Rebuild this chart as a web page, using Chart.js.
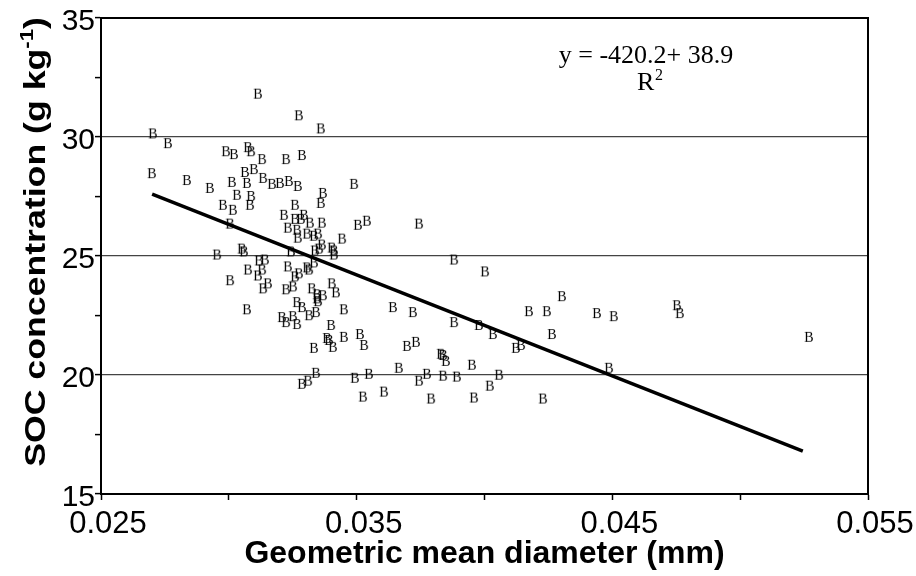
<!DOCTYPE html>
<html>
<head>
<meta charset="utf-8">
<script src="https://cdn.jsdelivr.net/npm/chart.js@4.4.0/dist/chart.umd.min.js"></script>
<style>
    html, body { margin: 0; padding: 0; background: #fff; }
    #wrap { width: 916px; height: 576px; }
</style>
</head>
<body>
<div id="wrap"><canvas id="grafico" width="916" height="576"></canvas></div>
<script>
// diametro medio geometrico (mm)
var gmd = [
    0.03114, 0.03274, 0.03360, 0.02703, 0.02762, 0.02989, 0.03020, 0.03075, 0.03087, 0.03130,
    0.03224, 0.03286, 0.02699, 0.02836, 0.02926, 0.03012, 0.03063, 0.03098, 0.03071, 0.03134,
    0.03169, 0.03200, 0.03235, 0.03270, 0.03490, 0.03368, 0.03032, 0.03087, 0.03360, 0.02977,
    0.03016, 0.03083, 0.03259, 0.03216, 0.03259, 0.03282, 0.03294, 0.03317, 0.03364, 0.03505,
    0.03540, 0.03005, 0.03231, 0.03267, 0.03270, 0.03306, 0.03333, 0.03349, 0.03443, 0.03364,
    0.03353, 0.03337, 0.03403, 0.03411, 0.03411, 0.03243, 0.02954, 0.03051, 0.03059, 0.03118,
    0.03141, 0.03333, 0.03231, 0.03075, 0.03130, 0.03306, 0.03314, 0.03274, 0.03259, 0.03114,
    0.03005, 0.03153, 0.03134, 0.03224, 0.03251, 0.03325, 0.03345, 0.03368, 0.03403, 0.03419,
    0.03345, 0.03349, 0.03267, 0.03286, 0.03071, 0.03314, 0.03341, 0.03450, 0.03208, 0.03224,
    0.03251, 0.03267, 0.03400, 0.03384, 0.03392, 0.03450, 0.03513, 0.03529, 0.03407, 0.03333,
    0.03341, 0.03310, 0.03286, 0.03493, 0.03548, 0.03525, 0.03607, 0.03744, 0.03881, 0.04002,
    0.04303, 0.04174, 0.04244, 0.04440, 0.04506, 0.03642, 0.03720, 0.03881, 0.03978, 0.04033,
    0.04264, 0.04123, 0.04143, 0.03697, 0.03732, 0.03830, 0.03838, 0.03849, 0.03951, 0.03665,
    0.03775, 0.03838, 0.03892, 0.04057, 0.03744, 0.04021, 0.04487, 0.03791, 0.03959, 0.04229,
    0.04753, 0.04764, 0.05269
];
// concentracao de SOC (g/kg)
var soc = [
    31.78, 30.87, 30.32, 30.11, 29.70, 29.36, 29.24, 29.53, 29.36, 29.03,
    29.03, 29.20, 28.44, 28.15, 27.82, 28.07, 28.49, 28.61, 28.03, 28.24,
    27.99, 28.03, 28.11, 27.90, 27.99, 27.61, 27.53, 27.48, 27.19, 27.11,
    26.90, 27.11, 27.11, 26.69, 26.52, 26.52, 26.69, 26.36, 26.36, 26.27,
    26.44, 26.32, 26.15, 26.06, 25.73, 25.90, 25.81, 25.90, 25.69, 25.44,
    25.27, 25.19, 25.31, 25.19, 25.02, 25.15, 25.02, 25.27, 25.15, 24.77,
    24.81, 24.69, 24.52, 24.39, 24.39, 24.48, 24.39, 24.23, 24.10, 24.14,
    23.94, 23.81, 23.60, 23.56, 23.68, 23.60, 23.35, 23.31, 23.81, 23.43,
    23.18, 23.06, 23.02, 22.81, 22.72, 22.47, 22.60, 22.72, 22.39, 22.18,
    22.43, 22.10, 22.06, 21.51, 21.43, 21.56, 21.68, 21.22, 21.14, 21.10,
    20.05, 19.72, 19.59, 19.84, 20.01, 19.05, 19.26, 26.32, 24.81, 24.31,
    23.27, 22.64, 22.64, 22.56, 22.43, 22.81, 22.60, 22.18, 22.06, 21.68,
    21.68, 21.10, 21.22, 21.18, 21.35, 20.85, 20.80, 20.55, 20.39, 20.26,
    20.01, 19.93, 19.89, 19.97, 19.72, 19.51, 20.26, 18.97, 19.01, 18.97,
    22.89, 22.56, 21.56
];
// reta de regressao (extremos)
var fitGmd = [0.0270, 0.05245];
var fitSoc = [27.60, 16.80];

var xTicks = [0.025, 0.030, 0.035, 0.040, 0.045, 0.050, 0.055];
var xTickLabels = ['0.025', '', '0.035', '', '0.045', '', '0.055'];
var yTicks = [15, 17.5, 20, 22.5, 25, 27.5, 30, 32.5, 35];
var yTickLabels = ['15', '', '20', '', '25', '', '30', '', '35'];

var linhasGrade = [20, 25, 30];

function letraB() {
    var c = document.createElement('canvas');
    c.width = 16;
    c.height = 18;
    var g = c.getContext('2d');
    g.font = "14px 'Liberation Serif'";
    g.fillStyle = '#000';
    g.textAlign = 'center';
    g.textBaseline = 'middle';
    g.fillText('B', 8, 9.5);
    return c;
}

var pontos = gmd.map(function (v, i) { return { x: v, y: soc[i] }; });
var reta = fitGmd.map(function (v, i) { return { x: v, y: fitSoc[i] }; });

// moldura, titulo do eixo y e equacao
var extras = {
    id: 'extras',
    afterDraw: function (chart) {
        var ctx = chart.ctx;
        var a = chart.chartArea;
        ctx.save();
        ctx.strokeStyle = '#000';
        ctx.lineWidth = 2;
        ctx.beginPath();
        ctx.moveTo(a.left, a.top);
        ctx.lineTo(a.right, a.top);
        ctx.lineTo(a.right, a.bottom);
        ctx.stroke();

        // titulo y com sobrescrito
        var t1 = 'SOC concentration (g kg';
        var t2 = '-1';
        var t3 = ')';
        var fGrande = "bold 29px 'Liberation Sans', Arial, sans-serif";
        var fPeq = "bold 18px 'Liberation Sans', Arial, sans-serif";
        ctx.font = fGrande;
        var w1 = ctx.measureText(t1).width;
        var w3 = ctx.measureText(t3).width;
        ctx.font = fPeq;
        var w2 = ctx.measureText(t2).width;
        var total = w1 + w2 + w3;
        ctx.translate(45, 242);
        ctx.rotate(-Math.PI / 2);
        ctx.scale(1.23, 1);
        ctx.fillStyle = '#000';
        ctx.textBaseline = 'alphabetic';
        ctx.textAlign = 'left';
        var x0 = -total / 2;
        ctx.font = fGrande;
        ctx.fillText(t1, x0, 0);
        ctx.font = fPeq;
        ctx.fillText(t2, x0 + w1, -12);
        ctx.font = fGrande;
        ctx.fillText(t3, x0 + w1 + w2, 0);
        ctx.restore();

        // equacao
        ctx.save();
        ctx.fillStyle = '#000';
        ctx.font = "26px 'Liberation Serif', 'Times New Roman', serif";
        ctx.textAlign = 'center';
        ctx.textBaseline = 'alphabetic';
        ctx.fillText('y = -420.2+ 38.9', 646, 63);
        ctx.textAlign = 'left';
        ctx.fillText('R', 637, 90);
        ctx.font = "16px 'Liberation Serif', 'Times New Roman', serif";
        ctx.fillText('2', 655, 80);
        ctx.restore();
    }
};

var ctx = document.getElementById('grafico');
var grafico = new Chart(ctx, {
    type: 'scatter',
    data: {
        datasets: [{
            data: pontos,
            pointStyle: letraB(),
            pointRadius: 7,
            pointHoverRadius: 7
        }, {
            data: reta,
            showLine: true,
            borderColor: '#000',
            borderWidth: 3.5,
            pointRadius: 0,
            pointHoverRadius: 0,
            fill: false
        }]
    },
    options: {
        responsive: false,
        animation: false,
        devicePixelRatio: 1,
        layout: { padding: { top: 15, right: 48, left: 0, bottom: 0 } },
        plugins: {
            legend: { display: false },
            tooltip: { enabled: false }
        },
        scales: {
            x: {
                type: 'linear',
                min: 0.025,
                max: 0.055,
                afterBuildTicks: function (scale) {
                    scale.ticks = xTicks.map(function (v) { return { value: v }; });
                },
                afterFit: function (scale) { scale.height = 82; },
                ticks: {
                    autoSkip: false,
                    maxRotation: 0,
                    padding: 6,
                    labelOffset: 7,
                    color: '#000',
                    font: { family: "'Liberation Sans', Arial, sans-serif", size: 31 },
                    callback: function (value, index) { return xTickLabels[index]; }
                },
                grid: {
                    drawOnChartArea: false,
                    drawTicks: true,
                    tickLength: 6,
                    tickColor: '#000',
                    tickWidth: 1.5
                },
                border: { display: true, color: '#000', width: 2 },
                title: {
                    display: true,
                    text: 'Geometric mean diameter (mm)',
                    color: '#000',
                    font: { family: "'Liberation Sans', Arial, sans-serif", size: 32, weight: 'bold' },
                    padding: { top: 0, bottom: 3 }
                }
            },
            y: {
                type: 'linear',
                min: 15,
                max: 35,
                afterBuildTicks: function (scale) {
                    scale.ticks = yTicks.map(function (v) { return { value: v }; });
                },
                afterFit: function (scale) { scale.width = 101; },
                ticks: {
                    autoSkip: false,
                    padding: 0,
                    labelOffset: 4,
                    color: '#000',
                    font: { family: "'Liberation Sans', Arial, sans-serif", size: 30 },
                    callback: function (value, index) { return yTickLabels[index]; }
                },
                grid: {
                    color: function (c) {
                        if (c.tick && linhasGrade.indexOf(c.tick.value) >= 0) return '#444';
                        return 'rgba(0,0,0,0)';
                    },
                    lineWidth: 1.2,
                    drawTicks: true,
                    tickLength: 6,
                    tickColor: '#000',
                    tickWidth: 1.5
                },
                border: { display: true, color: '#000', width: 2 }
            }
        }
    },
    plugins: [extras]
});
</script>
</body>
</html>
